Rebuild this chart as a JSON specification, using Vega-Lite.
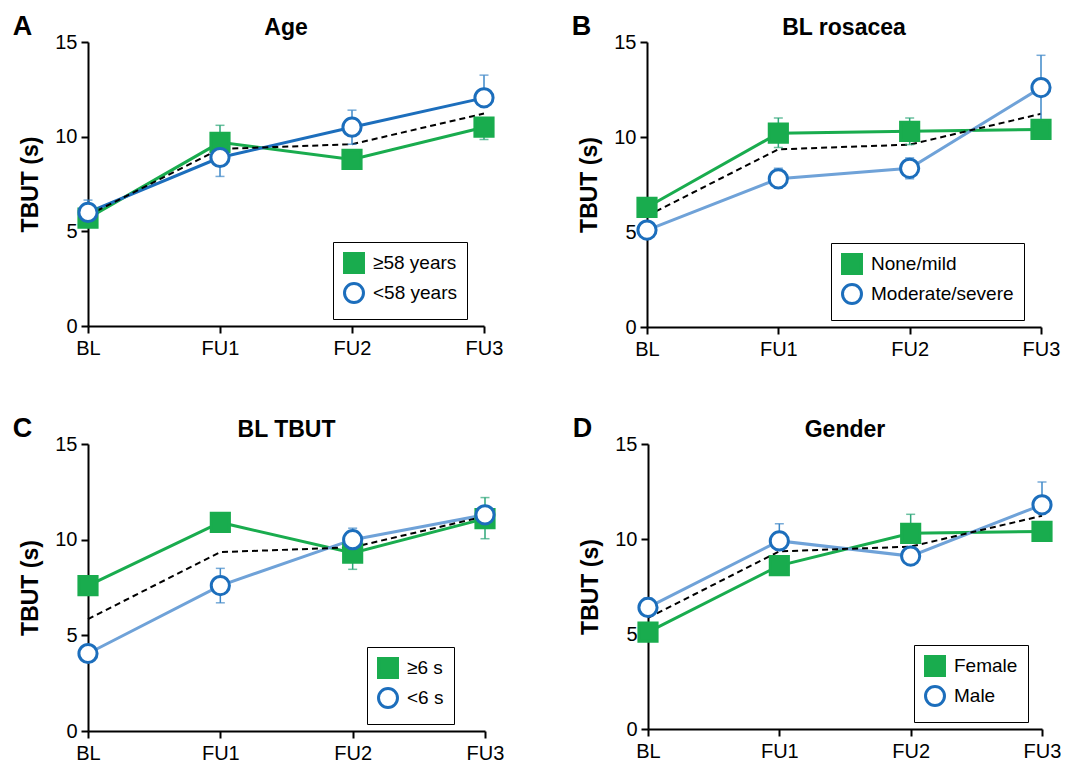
{
  "$schema": "https://vega.github.io/schema/vega-lite/v6.json",
  "padding": {"left": 12, "top": 13, "right": 0, "bottom": 0},
  "datasets": {
    "groups": [
      {"panel": "A", "group": "≥58 years", "time": "BL", "value": 5.7, "lo": 5.7, "hi": 5.7},
      {"panel": "A", "group": "≥58 years", "time": "FU1", "value": 9.7, "lo": 9.7, "hi": 10.6},
      {"panel": "A", "group": "≥58 years", "time": "FU2", "value": 8.8, "lo": 8.8, "hi": 8.8},
      {"panel": "A", "group": "≥58 years", "time": "FU3", "value": 10.5, "lo": 9.85, "hi": 10.5},
      {"panel": "A", "group": "<58 years", "time": "BL", "value": 6.0, "lo": 6.0, "hi": 6.65},
      {"panel": "A", "group": "<58 years", "time": "FU1", "value": 8.9, "lo": 7.9, "hi": 8.9},
      {"panel": "A", "group": "<58 years", "time": "FU2", "value": 10.5, "lo": 9.6, "hi": 11.4},
      {"panel": "A", "group": "<58 years", "time": "FU3", "value": 12.05, "lo": 12.05, "hi": 13.25},
      {"panel": "B", "group": "None/mild", "time": "BL", "value": 6.3, "lo": 6.3, "hi": 6.3},
      {"panel": "B", "group": "None/mild", "time": "FU1", "value": 10.2, "lo": 9.45, "hi": 11.0},
      {"panel": "B", "group": "None/mild", "time": "FU2", "value": 10.3, "lo": 9.6, "hi": 11.0},
      {"panel": "B", "group": "None/mild", "time": "FU3", "value": 10.4, "lo": 10.4, "hi": 10.4},
      {"panel": "B", "group": "Moderate/severe", "time": "BL", "value": 5.1, "lo": 5.1, "hi": 5.1},
      {"panel": "B", "group": "Moderate/severe", "time": "FU1", "value": 7.8, "lo": 7.3, "hi": 8.35},
      {"panel": "B", "group": "Moderate/severe", "time": "FU2", "value": 8.35, "lo": 7.8, "hi": 8.9},
      {"panel": "B", "group": "Moderate/severe", "time": "FU3", "value": 12.6, "lo": 10.9, "hi": 14.3},
      {"panel": "C", "group": "≥6 s", "time": "BL", "value": 7.6, "lo": 7.6, "hi": 7.6},
      {"panel": "C", "group": "≥6 s", "time": "FU1", "value": 10.9, "lo": 10.9, "hi": 10.9},
      {"panel": "C", "group": "≥6 s", "time": "FU2", "value": 9.3, "lo": 8.45, "hi": 9.3},
      {"panel": "C", "group": "≥6 s", "time": "FU3", "value": 11.1, "lo": 10.05, "hi": 12.2},
      {"panel": "C", "group": "<6 s", "time": "BL", "value": 4.05, "lo": 4.05, "hi": 4.05},
      {"panel": "C", "group": "<6 s", "time": "FU1", "value": 7.6, "lo": 6.7, "hi": 8.5},
      {"panel": "C", "group": "<6 s", "time": "FU2", "value": 10.0, "lo": 10.0, "hi": 10.6},
      {"panel": "C", "group": "<6 s", "time": "FU3", "value": 11.3, "lo": 11.3, "hi": 11.3},
      {"panel": "D", "group": "Female", "time": "BL", "value": 5.1, "lo": 5.1, "hi": 5.1},
      {"panel": "D", "group": "Female", "time": "FU1", "value": 8.6, "lo": 8.6, "hi": 8.6},
      {"panel": "D", "group": "Female", "time": "FU2", "value": 10.3, "lo": 10.3, "hi": 11.3},
      {"panel": "D", "group": "Female", "time": "FU3", "value": 10.4, "lo": 10.4, "hi": 10.4},
      {"panel": "D", "group": "Male", "time": "BL", "value": 6.4, "lo": 6.4, "hi": 6.9},
      {"panel": "D", "group": "Male", "time": "FU1", "value": 9.9, "lo": 9.9, "hi": 10.8},
      {"panel": "D", "group": "Male", "time": "FU2", "value": 9.1, "lo": 8.7, "hi": 9.1},
      {"panel": "D", "group": "Male", "time": "FU3", "value": 11.8, "lo": 11.8, "hi": 13.0}
    ],
    "overall": [
      {"time": "BL", "value": 5.85},
      {"time": "FU1", "value": 9.35},
      {"time": "FU2", "value": 9.6},
      {"time": "FU3", "value": 11.22}
    ]
  },
  "config": {
    "font": "Liberation Sans",
    "view": {"stroke": null},
    "axis": {
      "grid": false,
      "domainColor": "black",
      "domainWidth": 2,
      "tickColor": "black",
      "tickWidth": 2,
      "tickSize": 7,
      "labelColor": "black",
      "labelFontSize": 20,
      "labelFont": "Liberation Sans",
      "titleColor": "black",
      "titleFont": "Liberation Sans"
    },
    "axisY": {"titleFontSize": 23, "titleFontWeight": "bold", "titlePadding": 12, "labelPadding": 4},
    "axisX": {"labelPadding": 5, "labelAngle": 0},
    "legend": {
      "strokeColor": "black",
      "padding": 10,
      "labelFontSize": 19,
      "labelColor": "black",
      "labelFont": "Liberation Sans",
      "symbolSize": 360,
      "symbolStrokeWidth": 3,
      "rowPadding": -2,
      "labelOffset": 8,
      "fillColor": "white"
    },
    "title": {"fontSize": 23, "fontWeight": "bold", "color": "black", "font": "Liberation Sans", "anchor": "middle", "frame": "group", "offset": -8}
  },
  "spacing": 56,
  "vconcat": [
    {
      "hconcat": [
        {
          "title": {"text": "A", "anchor": "start", "frame": "bounds", "fontSize": 27, "offset": -24, "dx": -7},
          "vconcat": [
            {
              "title": "Age",
              "width": 396, "height": 284,
              "encoding": {
                "x": {"field": "time", "type": "ordinal", "scale": {"type": "point", "padding": 0}, "axis": {"title": null}},
                "y": {"field": "value", "type": "quantitative", "scale": {"domain": [0, 15]}, "axis": {"values": [0, 5, 10, 15], "title": "TBUT (s)"}}
              },
              "layer": [
                {
                  "data": {"name": "groups"},
                  "transform": [{"filter": "datum.panel == 'A'"}],
                  "mark": {"type": "line", "strokeWidth": 3},
                  "encoding": {
                    "detail": {"field": "group"},
                    "color": {"condition": {"test": "datum.group == '≥58 years'", "value": "#19AC4E"}, "value": "#1C6EBC"}
                  }
                },
                {
                  "data": {"name": "overall"},
                  "mark": {"type": "line", "color": "black", "strokeDash": [6, 4], "strokeWidth": 2},
                  "encoding": {}
                },
                {
                  "data": {"name": "groups"},
                  "transform": [{"filter": "datum.panel == 'A'"}],
                  "mark": {"type": "rule", "strokeWidth": 1.5},
                  "encoding": {
                    "y": {"field": "lo", "type": "quantitative"},
                    "y2": {"field": "hi"},
                    "color": {"condition": {"test": "datum.group == '≥58 years'", "value": "#2EA779"}, "value": "#3E88C8"}
                  }
                },
                {
                  "data": {"name": "groups"},
                  "transform": [{"filter": "datum.panel == 'A'"}],
                  "mark": {"type": "tick", "size": 9, "thickness": 1.5},
                  "encoding": {
                    "y": {"field": "hi", "type": "quantitative"},
                    "color": {"condition": {"test": "datum.group == '≥58 years'", "value": "#2EA779"}, "value": "#3E88C8"}
                  }
                },
                {
                  "data": {"name": "groups"},
                  "transform": [{"filter": "datum.panel == 'A'"}],
                  "mark": {"type": "tick", "size": 9, "thickness": 1.5},
                  "encoding": {
                    "y": {"field": "lo", "type": "quantitative"},
                    "color": {"condition": {"test": "datum.group == '≥58 years'", "value": "#2EA779"}, "value": "#3E88C8"}
                  }
                },
                {
                  "data": {"name": "groups"},
                  "transform": [{"filter": "datum.panel == 'A'"}],
                  "mark": {"type": "point", "size": 330, "strokeWidth": 3, "opacity": 1},
                  "encoding": {
                    "shape": {"field": "group", "type": "nominal", "scale": {"domain": ["≥58 years", "<58 years"], "range": ["square", "circle"]}, "legend": {"title": null, "orient": "none", "legendX": 245, "legendY": 200}},
                    "fill": {"field": "group", "type": "nominal", "scale": {"domain": ["≥58 years", "<58 years"], "range": ["#19AC4E", "white"]}, "legend": {"title": null, "orient": "none", "legendX": 245, "legendY": 200}},
                    "stroke": {"field": "group", "type": "nominal", "scale": {"domain": ["≥58 years", "<58 years"], "range": ["#19AC4E", "#1C6EBC"]}, "legend": {"title": null, "orient": "none", "legendX": 245, "legendY": 200}}
                  }
                }
              ]
            }
          ]
        },
        {
          "title": {"text": "B", "anchor": "start", "frame": "bounds", "fontSize": 27, "offset": -24, "dx": -7},
          "vconcat": [
            {
              "title": "BL rosacea",
              "width": 394, "height": 285,
              "encoding": {
                "x": {"field": "time", "type": "ordinal", "scale": {"type": "point", "padding": 0}, "axis": {"title": null}},
                "y": {"field": "value", "type": "quantitative", "scale": {"domain": [0, 15]}, "axis": {"values": [0, 5, 10, 15], "title": "TBUT (s)"}}
              },
              "layer": [
                {
                  "data": {"name": "groups"},
                  "transform": [{"filter": "datum.panel == 'B'"}],
                  "mark": {"type": "line", "strokeWidth": 3},
                  "encoding": {
                    "detail": {"field": "group"},
                    "color": {"condition": {"test": "datum.group == 'None/mild'", "value": "#19AC4E"}, "value": "#6FA2D8"}
                  }
                },
                {
                  "data": {"name": "overall"},
                  "mark": {"type": "line", "color": "black", "strokeDash": [6, 4], "strokeWidth": 2},
                  "encoding": {}
                },
                {
                  "data": {"name": "groups"},
                  "transform": [{"filter": "datum.panel == 'B'"}],
                  "mark": {"type": "rule", "strokeWidth": 1.5},
                  "encoding": {
                    "y": {"field": "lo", "type": "quantitative"},
                    "y2": {"field": "hi"},
                    "color": {"condition": {"test": "datum.group == 'None/mild'", "value": "#2EA779"}, "value": "#3E88C8"}
                  }
                },
                {
                  "data": {"name": "groups"},
                  "transform": [{"filter": "datum.panel == 'B'"}],
                  "mark": {"type": "tick", "size": 9, "thickness": 1.5},
                  "encoding": {
                    "y": {"field": "hi", "type": "quantitative"},
                    "color": {"condition": {"test": "datum.group == 'None/mild'", "value": "#2EA779"}, "value": "#3E88C8"}
                  }
                },
                {
                  "data": {"name": "groups"},
                  "transform": [{"filter": "datum.panel == 'B'"}],
                  "mark": {"type": "tick", "size": 9, "thickness": 1.5},
                  "encoding": {
                    "y": {"field": "lo", "type": "quantitative"},
                    "color": {"condition": {"test": "datum.group == 'None/mild'", "value": "#2EA779"}, "value": "#3E88C8"}
                  }
                },
                {
                  "data": {"name": "groups"},
                  "transform": [{"filter": "datum.panel == 'B'"}],
                  "mark": {"type": "point", "size": 330, "strokeWidth": 3, "opacity": 1},
                  "encoding": {
                    "shape": {"field": "group", "type": "nominal", "scale": {"domain": ["None/mild", "Moderate/severe"], "range": ["square", "circle"]}, "legend": {"title": null, "orient": "none", "legendX": 184, "legendY": 201}},
                    "fill": {"field": "group", "type": "nominal", "scale": {"domain": ["None/mild", "Moderate/severe"], "range": ["#19AC4E", "white"]}, "legend": {"title": null, "orient": "none", "legendX": 184, "legendY": 201}},
                    "stroke": {"field": "group", "type": "nominal", "scale": {"domain": ["None/mild", "Moderate/severe"], "range": ["#19AC4E", "#1C6EBC"]}, "legend": {"title": null, "orient": "none", "legendX": 184, "legendY": 201}}
                  }
                }
              ]
            }
          ]
        }
      ],
      "spacing": 68,
      "resolve": {"scale": {"fill": "independent", "stroke": "independent", "shape": "independent", "x": "independent", "y": "independent"}, "legend": {"fill": "independent", "stroke": "independent", "shape": "independent"}}
    },
    {
      "hconcat": [
        {
          "title": {"text": "C", "anchor": "start", "frame": "bounds", "fontSize": 27, "offset": -24, "dx": -7},
          "vconcat": [
            {
              "title": "BL TBUT",
              "width": 397, "height": 287,
              "encoding": {
                "x": {"field": "time", "type": "ordinal", "scale": {"type": "point", "padding": 0}, "axis": {"title": null}},
                "y": {"field": "value", "type": "quantitative", "scale": {"domain": [0, 15]}, "axis": {"values": [0, 5, 10, 15], "title": "TBUT (s)"}}
              },
              "layer": [
                {
                  "data": {"name": "groups"},
                  "transform": [{"filter": "datum.panel == 'C'"}],
                  "mark": {"type": "line", "strokeWidth": 3},
                  "encoding": {
                    "detail": {"field": "group"},
                    "color": {"condition": {"test": "datum.group == '≥6 s'", "value": "#19AC4E"}, "value": "#6FA2D8"}
                  }
                },
                {
                  "data": {"name": "overall"},
                  "mark": {"type": "line", "color": "black", "strokeDash": [6, 4], "strokeWidth": 2},
                  "encoding": {}
                },
                {
                  "data": {"name": "groups"},
                  "transform": [{"filter": "datum.panel == 'C'"}],
                  "mark": {"type": "rule", "strokeWidth": 1.5},
                  "encoding": {
                    "y": {"field": "lo", "type": "quantitative"},
                    "y2": {"field": "hi"},
                    "color": {"condition": {"test": "datum.group == '≥6 s'", "value": "#2EA779"}, "value": "#3E88C8"}
                  }
                },
                {
                  "data": {"name": "groups"},
                  "transform": [{"filter": "datum.panel == 'C'"}],
                  "mark": {"type": "tick", "size": 9, "thickness": 1.5},
                  "encoding": {
                    "y": {"field": "hi", "type": "quantitative"},
                    "color": {"condition": {"test": "datum.group == '≥6 s'", "value": "#2EA779"}, "value": "#3E88C8"}
                  }
                },
                {
                  "data": {"name": "groups"},
                  "transform": [{"filter": "datum.panel == 'C'"}],
                  "mark": {"type": "tick", "size": 9, "thickness": 1.5},
                  "encoding": {
                    "y": {"field": "lo", "type": "quantitative"},
                    "color": {"condition": {"test": "datum.group == '≥6 s'", "value": "#2EA779"}, "value": "#3E88C8"}
                  }
                },
                {
                  "data": {"name": "groups"},
                  "transform": [{"filter": "datum.panel == 'C'"}],
                  "mark": {"type": "point", "size": 330, "strokeWidth": 3, "opacity": 1},
                  "encoding": {
                    "shape": {"field": "group", "type": "nominal", "scale": {"domain": ["≥6 s", "<6 s"], "range": ["square", "circle"]}, "legend": {"title": null, "orient": "none", "legendX": 279, "legendY": 203}},
                    "fill": {"field": "group", "type": "nominal", "scale": {"domain": ["≥6 s", "<6 s"], "range": ["#19AC4E", "white"]}, "legend": {"title": null, "orient": "none", "legendX": 279, "legendY": 203}},
                    "stroke": {"field": "group", "type": "nominal", "scale": {"domain": ["≥6 s", "<6 s"], "range": ["#19AC4E", "#1C6EBC"]}, "legend": {"title": null, "orient": "none", "legendX": 279, "legendY": 203}}
                  }
                }
              ]
            }
          ]
        },
        {
          "title": {"text": "D", "anchor": "start", "frame": "bounds", "fontSize": 27, "offset": -24, "dx": -7},
          "vconcat": [
            {
              "title": "Gender",
              "width": 394, "height": 285,
              "encoding": {
                "x": {"field": "time", "type": "ordinal", "scale": {"type": "point", "padding": 0}, "axis": {"title": null}},
                "y": {"field": "value", "type": "quantitative", "scale": {"domain": [0, 15]}, "axis": {"values": [0, 5, 10, 15], "title": "TBUT (s)"}}
              },
              "layer": [
                {
                  "data": {"name": "groups"},
                  "transform": [{"filter": "datum.panel == 'D'"}],
                  "mark": {"type": "line", "strokeWidth": 3},
                  "encoding": {
                    "detail": {"field": "group"},
                    "color": {"condition": {"test": "datum.group == 'Female'", "value": "#19AC4E"}, "value": "#6FA2D8"}
                  }
                },
                {
                  "data": {"name": "overall"},
                  "mark": {"type": "line", "color": "black", "strokeDash": [6, 4], "strokeWidth": 2},
                  "encoding": {}
                },
                {
                  "data": {"name": "groups"},
                  "transform": [{"filter": "datum.panel == 'D'"}],
                  "mark": {"type": "rule", "strokeWidth": 1.5},
                  "encoding": {
                    "y": {"field": "lo", "type": "quantitative"},
                    "y2": {"field": "hi"},
                    "color": {"condition": {"test": "datum.group == 'Female'", "value": "#2EA779"}, "value": "#3E88C8"}
                  }
                },
                {
                  "data": {"name": "groups"},
                  "transform": [{"filter": "datum.panel == 'D'"}],
                  "mark": {"type": "tick", "size": 9, "thickness": 1.5},
                  "encoding": {
                    "y": {"field": "hi", "type": "quantitative"},
                    "color": {"condition": {"test": "datum.group == 'Female'", "value": "#2EA779"}, "value": "#3E88C8"}
                  }
                },
                {
                  "data": {"name": "groups"},
                  "transform": [{"filter": "datum.panel == 'D'"}],
                  "mark": {"type": "tick", "size": 9, "thickness": 1.5},
                  "encoding": {
                    "y": {"field": "lo", "type": "quantitative"},
                    "color": {"condition": {"test": "datum.group == 'Female'", "value": "#2EA779"}, "value": "#3E88C8"}
                  }
                },
                {
                  "data": {"name": "groups"},
                  "transform": [{"filter": "datum.panel == 'D'"}],
                  "mark": {"type": "point", "size": 330, "strokeWidth": 3, "opacity": 1},
                  "encoding": {
                    "shape": {"field": "group", "type": "nominal", "scale": {"domain": ["Female", "Male"], "range": ["square", "circle"]}, "legend": {"title": null, "orient": "none", "legendX": 266, "legendY": 201}},
                    "fill": {"field": "group", "type": "nominal", "scale": {"domain": ["Female", "Male"], "range": ["#19AC4E", "white"]}, "legend": {"title": null, "orient": "none", "legendX": 266, "legendY": 201}},
                    "stroke": {"field": "group", "type": "nominal", "scale": {"domain": ["Female", "Male"], "range": ["#19AC4E", "#1C6EBC"]}, "legend": {"title": null, "orient": "none", "legendX": 266, "legendY": 201}}
                  }
                }
              ]
            }
          ]
        }
      ],
      "spacing": 68,
      "resolve": {"scale": {"fill": "independent", "stroke": "independent", "shape": "independent", "x": "independent", "y": "independent"}, "legend": {"fill": "independent", "stroke": "independent", "shape": "independent"}}
    }
  ],
  "resolve": {"scale": {"fill": "independent", "stroke": "independent", "shape": "independent", "x": "independent", "y": "independent"}, "legend": {"fill": "independent", "stroke": "independent", "shape": "independent"}}
}
